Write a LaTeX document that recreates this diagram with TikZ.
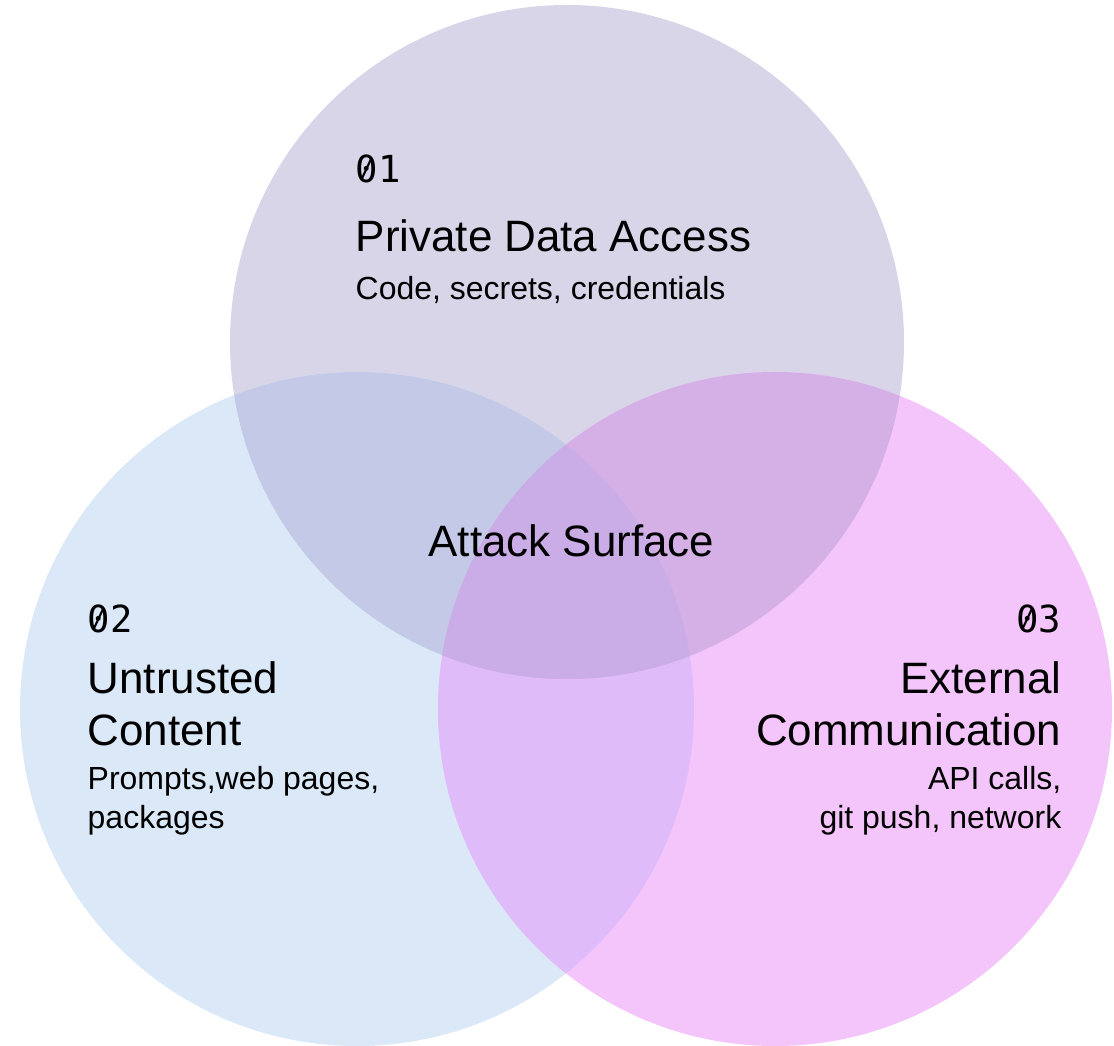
\documentclass[tikz,border=0pt]{standalone}
\usepackage{fontspec}
\setmainfont{Liberation Sans}
\newfontfamily\numfont{DejaVu Sans Mono}
\usepackage{tikz}
\usetikzlibrary{positioning}

\definecolor{topcol}{HTML}{D9D5E9}
\definecolor{leftcol}{HTML}{DAE8F7}
\definecolor{rightcol}{HTML}{F4C5FA}
\definecolor{tlcol}{HTML}{C3C9E6}
\definecolor{trcol}{HTML}{D4B0E6}
\definecolor{lrcol}{HTML}{E0BBFA}
\definecolor{allcol}{HTML}{CAACE6}

% zero barrato
\newcommand{\slzero}{\makebox[0pt][l]{0}\makebox[\fontcharwd\font`0][c]{\raisebox{0.14em}{\scalebox{0.7}{/}}}}

\begin{document}
\begin{tikzpicture}[
        % Stile dei numeri (monospazio)
        num/.style={font=\numfont\fontsize{10.6}{12}\selectfont, inner sep=0pt},
        % Stile dei titoli
        title/.style={font=\fontsize{12.5}{14.8}\selectfont, inner sep=0pt},
        % Stile delle descrizioni
        desc/.style={font=\fontsize{9.1}{11.2}\selectfont, inner sep=0pt},
    ]

    \useasboundingbox (0,0) rectangle (11.14,-10.46);
    \def\rad{3.37}

    % Centri dei cerchi
    \coordinate (ctop) at (5.67,-3.42);
    \coordinate (cleft) at (3.57,-7.09);
    \coordinate (cright) at (7.75,-7.09);

    \fill[topcol] (ctop) circle (\rad);
    \fill[leftcol] (cleft) circle (\rad);
    \fill[rightcol] (cright) circle (\rad);

    % Intersezioni
    \begin{scope}
        \clip (cleft) circle (\rad);
        \fill[lrcol] (cright) circle (\rad);
    \end{scope}
    \begin{scope}
        \clip (ctop) circle (\rad);
        \fill[tlcol] (cleft) circle (\rad);
        \fill[trcol] (cright) circle (\rad);
        \clip (cleft) circle (\rad);
        \fill[allcol] (cright) circle (\rad);
    \end{scope}

    % Testi (ancora = linea di base dell'ultima riga)
    \node[num, anchor=base west] (num1) at (3.55,-1.83) {\slzero1};
    \node[title, anchor=base west] (title1) at (3.55,-2.52) {Private Data Access};
    \node[desc, anchor=base west] (desc1) at (3.55,-3.00) {Code, secrets, credentials};

    \node[title, anchor=base] (attack) at (5.715,-5.57) {Attack Surface};

    \node[num, anchor=base west] (num2) at (0.87,-6.33) {\slzero2};
    \node[title, anchor=base west, align=left] (title2) at (0.87,-7.46) {Untrusted\\Content};
    \node[desc, anchor=base west, align=left] (desc2) at (0.87,-8.29) {Prompts,web pages,\\packages};

    \node[num, anchor=base east] (num3) at (10.62,-6.33) {\slzero3};
    \node[title, anchor=base east, align=right] (title3) at (10.62,-7.46) {External\\Communication};
    \node[desc, anchor=base east, align=right] (desc3) at (10.62,-8.29) {API calls,\\git push, network};

\end{tikzpicture}
\end{document}
